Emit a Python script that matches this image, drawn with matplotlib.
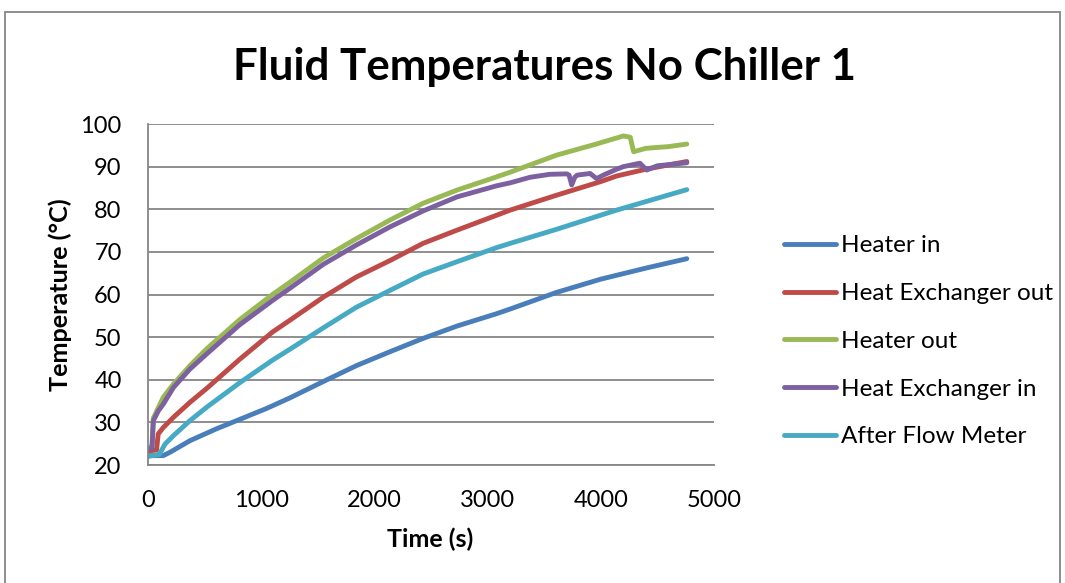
import matplotlib
matplotlib.use("Agg")
import matplotlib.pyplot as plt
from matplotlib.patches import Rectangle

# ---- data ----
t_heater_in = [0, 135, 195, 370, 605, 810, 1050, 1250, 1550, 1840, 2140, 2430, 2730, 3080, 3200, 3610, 4000, 4400, 4760]
heater_in = [22.2, 22.2, 23.0, 25.7, 28.5, 30.7, 33.3, 35.7, 39.6, 43.3, 46.6, 49.7, 52.6, 55.5, 56.6, 60.5, 63.6, 66.2, 68.4]

t_hx_out = [0, 75, 90, 135, 225, 370, 520, 810, 1100, 1250, 1550, 1840, 2140, 2430, 2730, 3080, 3200, 3610, 4000, 4140, 4400, 4760]
hx_out = [23.3, 23.5, 27.3, 28.8, 31.2, 34.7, 38.0, 44.8, 51.2, 53.9, 59.4, 64.1, 68.0, 72.0, 75.1, 78.6, 79.8, 83.3, 86.5, 87.8, 89.4, 91.2]

t_heater_out = [0, 35, 47, 135, 225, 370, 520, 810, 1100, 1250, 1550, 1840, 2140, 2430, 2730, 3080, 3200, 3610, 3960, 4200, 4260, 4290, 4400, 4600, 4760]
heater_out = [23.8, 24.5, 31.0, 35.9, 39.0, 43.3, 47.3, 54.1, 60.0, 62.8, 68.6, 73.1, 77.5, 81.4, 84.5, 87.6, 88.7, 92.7, 95.3, 97.2, 96.9, 93.5, 94.3, 94.7, 95.3]

t_hx_in = [0, 35, 47, 91, 135, 225, 370, 520, 810, 1100, 1250, 1550, 1840, 2140, 2430, 2730, 3080, 3200, 3375, 3550, 3700, 3720, 3743, 3770, 3790, 3905, 3963, 4022, 4140, 4200, 4346, 4405, 4500, 4760]
hx_in = [23.7, 24.0, 30.4, 32.7, 34.3, 38.2, 42.5, 46.1, 52.9, 58.6, 61.4, 67.1, 71.6, 75.9, 79.6, 82.9, 85.5, 86.2, 87.5, 88.2, 88.3, 88.0, 85.7, 87.5, 88.0, 88.4, 87.2, 88.0, 89.4, 90.0, 90.8, 89.2, 90.2, 90.9]

t_after_fm = [0, 100, 150, 225, 370, 520, 810, 1100, 1250, 1550, 1840, 2140, 2430, 2730, 3080, 3200, 3610, 4140, 4760]
after_fm = [22.0, 22.5, 24.9, 26.9, 30.4, 33.6, 39.3, 44.6, 47.1, 52.2, 57.0, 61.0, 64.8, 67.7, 71.0, 72.0, 75.3, 79.8, 84.6]

series_names = ["Heater in", "Heat Exchanger out", "Heater out", "Heat Exchanger in", "After Flow Meter"]
series_colors = ["#4A7EBB", "#BE4B48", "#98B954", "#7D60A0", "#46AAC5"]

x_ticks = [0, 1000, 2000, 3000, 4000, 5000]
y_ticks = [20, 30, 40, 50, 60, 70, 80, 90, 100]

plt.rcParams['font.family'] = ['Lato', 'DejaVu Sans']

fig = plt.figure(figsize=(10.65, 5.83), dpi=100)
fig.patches.append(Rectangle((0.005, -0.05), 0.99, 1.03, transform=fig.transFigure,
                             fill=False, edgecolor="#868686", linewidth=1.3))

ax = fig.add_axes([0.139, 0.2024, 0.5314, 0.5849])
data = [(t_heater_in, heater_in), (t_hx_out, hx_out), (t_heater_out, heater_out),
        (t_hx_in, hx_in), (t_after_fm, after_fm)]
for (tx, ty), name, col in zip(data, series_names, series_colors):
    ax.plot(tx, ty, color=col, lw=3.5, label=name, solid_capstyle='round', solid_joinstyle='round')

ax.set_xlim(0, 5000)
ax.set_ylim(20, 100)
ax.set_xticks(x_ticks)
ax.set_yticks(y_ticks)
ax.tick_params(axis='both', labelsize=17, color="#868686", length=0)
ax.tick_params(axis='x', pad=18)
ax.tick_params(axis='y', pad=19)
ax.grid(axis='y', color="#868686", lw=1.3)
ax.set_axisbelow(True)
for s in ['top', 'right']:
    ax.spines[s].set_visible(False)
for s in ['left', 'bottom']:
    ax.spines[s].set_color("#868686")
    ax.spines[s].set_linewidth(1.3)

fig.text(430 / 1065, 1 - 539 / 583, "Time (s)", ha='center', va='center',
         fontsize=18, fontweight='bold')
fig.text(60 / 1065, 1 - 295 / 583, "Temperature (°C)", ha='center', va='center',
         rotation=90, fontsize=18.2, fontweight='bold')

fig.text(0.511, 0.8846, "Fluid Temperatures No Chiller 1", ha='center', va='center',
         fontsize=31.6, fontweight='bold')

ax.legend(loc='upper left', bbox_to_anchor=(0.727, 0.613), bbox_transform=fig.transFigure,
          frameon=False, fontsize=17.5, handlelength=2.14, handletextpad=0.2, labelspacing=1.1,
          borderaxespad=0)

fig.savefig("out.png", dpi=100)
